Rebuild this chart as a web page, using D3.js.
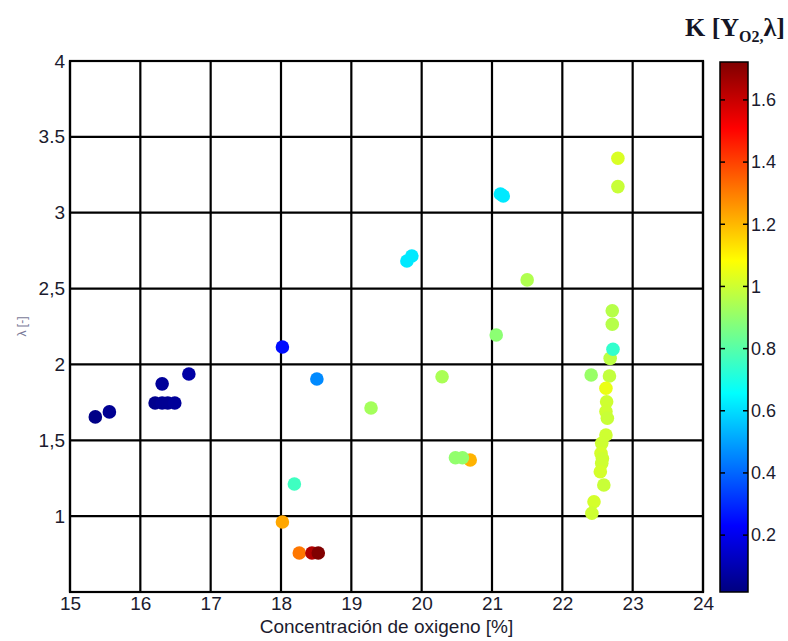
<!DOCTYPE html>
<html>
<head>
<meta charset="utf-8">
<script src="https://cdn.jsdelivr.net/npm/d3@7"></script>
<style>
  body { margin: 0; background: #fff; }
  .sans { font-family: "Liberation Sans", Arial, Helvetica, sans-serif; }
</style>
</head>
<body>
<svg id="chart" width="788" height="641"></svg>
<script>
// Oxygen concentration [%], lambda [-] and K value for every measurement
const oxygen = [
  15.36, 15.56, 16.31, 16.69, 16.21, 16.31, 16.39, 16.49,
  18.02, 18.51, 18.19, 18.02, 18.26, 18.44, 18.53,
  19.28, 20.29, 21.06, 21.50, 21.12, 21.16, 19.79, 19.86,
  20.69, 20.48, 20.58,
  22.79, 22.79, 22.71, 22.71, 22.68, 22.72, 22.41, 22.67, 22.62, 22.63,
  22.62, 22.64, 22.62, 22.56, 22.55, 22.57, 22.56, 22.54, 22.59, 22.45, 22.42
];
const lambda = [
  1.654, 1.687, 1.872, 1.937, 1.746, 1.746, 1.746, 1.746,
  2.115, 1.904, 1.212, 0.961, 0.757, 0.757, 0.757,
  1.713, 1.919, 2.194, 2.557, 3.123, 3.110, 2.682, 2.715,
  1.370, 1.385, 1.385,
  3.359, 3.172, 2.354, 2.265, 2.040, 2.100, 1.930, 1.924, 1.843, 1.754,
  1.689, 1.645, 1.535, 1.480, 1.414, 1.380, 1.348, 1.293, 1.205, 1.095, 1.019
];
const kValue = [
  0.03, 0.05, 0.06, 0.08, 0.04, 0.05, 0.05, 0.06,
  0.25, 0.46, 0.76, 1.23, 1.31, 1.64, 1.72,
  0.93, 0.94, 0.89, 0.95, 0.62, 0.62, 0.62, 0.62,
  1.21, 0.90, 0.90,
  1.02, 0.99, 0.96, 0.96, 0.97, 0.74, 0.91, 0.98, 1.05, 1.00,
  1.00, 0.99, 1.00, 1.00, 1.01, 1.00, 1.00, 1.01, 0.99, 1.01, 1.00
];

// Axis ticks and labels
const xTicks = [15, 16, 17, 18, 19, 20, 21, 22, 23, 24];
const yTicks = [1, 1.5, 2, 2.5, 3, 3.5, 4];
const yTickLabels = ["1", "1,5", "2", "2,5", "3", "3.5", "4"];
const colorTicks = [0.2, 0.4, 0.6, 0.8, 1, 1.2, 1.4, 1.6];
const kDomain = [0.017, 1.722];

const svg = d3.select("#chart");
const plot = { left: 70, right: 703, top: 61, bottom: 592 };

const x = d3.scaleLinear().domain([15, 24]).range([plot.left, plot.right]);
const y = d3.scaleLinear().domain([0.5, 4]).range([plot.bottom, plot.top]);

// MATLAB-style jet colormap
function jet(t) {
  const c = v => Math.max(0, Math.min(1, v));
  const r = c(1.5 - Math.abs(4 * t - 3));
  const g = c(1.5 - Math.abs(4 * t - 2));
  const b = c(1.5 - Math.abs(4 * t - 1));
  return d3.rgb(r * 255, g * 255, b * 255).formatHex();
}
const color = d3.scaleSequential(jet).domain(kDomain);

svg.append("rect").attr("width", 788).attr("height", 641).attr("fill", "#fff");

// Grid
const grid = svg.append("g").attr("stroke", "#000").attr("stroke-width", 2.2);
grid.selectAll("line.v").data(xTicks).join("line")
  .attr("x1", d => x(d)).attr("x2", d => x(d))
  .attr("y1", plot.top).attr("y2", plot.bottom);
grid.selectAll("line.h").data(yTicks).join("line")
  .attr("x1", plot.left).attr("x2", plot.right)
  .attr("y1", d => y(d)).attr("y2", d => y(d));

// Points
const points = oxygen.map((o, i) => ({ o, l: lambda[i], k: kValue[i] }));
svg.append("g").selectAll("circle").data(points).join("circle")
  .attr("cx", d => x(d.o))
  .attr("cy", d => y(d.l))
  .attr("r", 6.8)
  .attr("fill", d => color(d.k));

// Frame
svg.append("rect")
  .attr("x", plot.left).attr("y", plot.top)
  .attr("width", plot.right - plot.left).attr("height", plot.bottom - plot.top)
  .attr("fill", "none").attr("stroke", "#000").attr("stroke-width", 2.2);

// Axes
const xAxis = svg.append("g").attr("class", "sans")
  .attr("transform", `translate(0,${plot.bottom})`)
  .call(d3.axisBottom(x).tickValues(xTicks).tickFormat(d3.format("d")).tickSize(0).tickPadding(5));
const yAxis = svg.append("g").attr("class", "sans")
  .attr("transform", `translate(${plot.left},0)`)
  .call(d3.axisLeft(y).tickValues(yTicks).tickFormat((d, i) => yTickLabels[i]).tickSize(0).tickPadding(5));
[xAxis, yAxis].forEach(a => {
  a.select(".domain").remove();
  a.selectAll("text").style("font-family", null).attr("font-size", 19).attr("fill", "#1b1b2e");
});

// Axis titles
svg.append("text").attr("class", "sans")
  .attr("x", (plot.left + plot.right) / 2).attr("y", 633)
  .attr("text-anchor", "middle").attr("font-size", 19).attr("fill", "#1b1b2e")
  .text("Concentración de oxigeno [%]");
svg.append("text").attr("class", "sans")
  .attr("transform", `translate(26,${(plot.top + plot.bottom) / 2}) rotate(-90)`)
  .attr("text-anchor", "middle").attr("font-size", 12).attr("fill", "#7a7a98")
  .text("λ [-]");

// Colorbar
const cb = { x: 720, w: 28 };
const cy = d3.scaleLinear().domain(kDomain).range([plot.bottom, plot.top + 1]);
const grad = svg.append("defs").append("linearGradient")
  .attr("id", "jetGrad").attr("x1", 0).attr("x2", 0).attr("y1", 1).attr("y2", 0);
d3.range(0, 1.0001, 1 / 64).forEach(t => {
  grad.append("stop").attr("offset", t)
    .attr("stop-color", color(kDomain[0] + t * (kDomain[1] - kDomain[0])));
});
svg.append("rect")
  .attr("x", cb.x).attr("y", cy(kDomain[1]))
  .attr("width", cb.w).attr("height", cy(kDomain[0]) - cy(kDomain[1]))
  .attr("fill", "url(#jetGrad)").attr("stroke", "#000").attr("stroke-width", 1.5);
const cbTicks = svg.append("g").attr("stroke", "#000").attr("stroke-width", 1.5);
cbTicks.selectAll("line.l").data(colorTicks).join("line")
  .attr("x1", cb.x).attr("x2", cb.x + 5).attr("y1", d => cy(d)).attr("y2", d => cy(d));
cbTicks.selectAll("line.r").data(colorTicks).join("line")
  .attr("x1", cb.x + cb.w - 5).attr("x2", cb.x + cb.w).attr("y1", d => cy(d)).attr("y2", d => cy(d));
svg.append("g").attr("class", "sans").selectAll("text").data(colorTicks).join("text")
  .attr("x", cb.x + cb.w + 3).attr("y", d => cy(d)).attr("dy", "0.35em")
  .attr("font-size", 18).attr("fill", "#1b1b2e")
  .text(d => String(d));

// Colorbar title
const title = svg.append("text")
  .attr("x", 785).attr("y", 36).attr("text-anchor", "end")
  .style("font-family", "'Liberation Serif', 'Times New Roman', serif")
  .attr("font-weight", "bold").attr("font-size", 26).attr("fill", "#151525");
title.append("tspan").text("K [Y");
title.append("tspan").attr("font-size", 16).attr("dy", 6).text("O2,");
title.append("tspan").attr("dy", -6).text("λ]");
</script>
</body>
</html>
